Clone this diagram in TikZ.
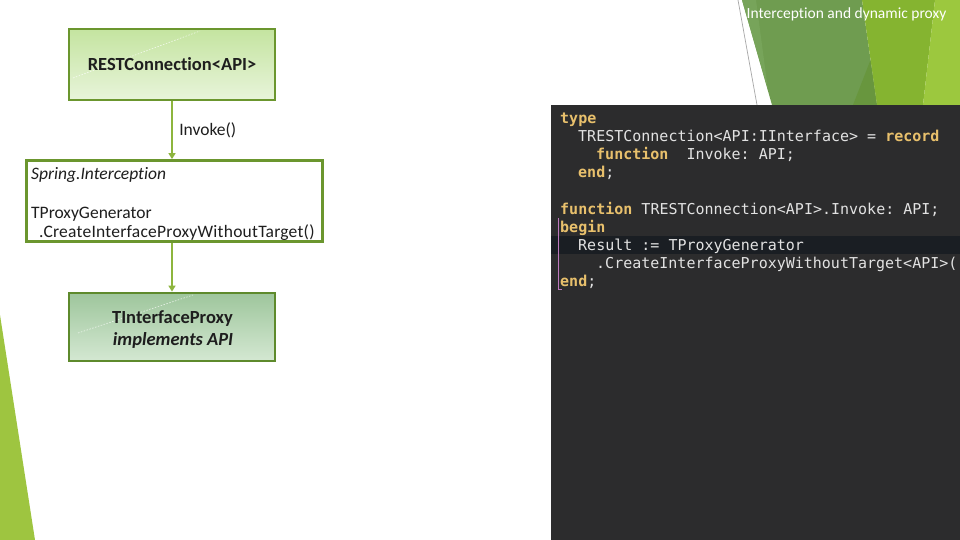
\documentclass[tikz,border=0pt]{standalone}
\usepackage{fontspec}
\setmainfont{Carlito}[Ligatures=NoCommon]
\setmonofont{DejaVu Sans Mono}
\usetikzlibrary{arrows.meta}
\definecolor{boxline}{RGB}{107,150,46}
\definecolor{boxlineB}{RGB}{94,138,44}
\definecolor{fillAtop}{RGB}{196,228,160}
\definecolor{fillAbot}{RGB}{232,244,218}
\definecolor{fillBtop}{RGB}{158,198,156}
\definecolor{fillBbot}{RGB}{212,232,210}
\definecolor{flowc}{RGB}{141,181,62}
\definecolor{panel}{RGB}{44,44,45}
\definecolor{hlbar}{RGB}{26,30,35}
\definecolor{codefg}{RGB}{226,226,226}
\definecolor{codekw}{RGB}{232,192,108}
\definecolor{guide}{RGB}{190,120,190}
\definecolor{decoDark}{RGB}{111,156,80}
\definecolor{decoDarkHi}{RGB}{119,164,90}
\definecolor{decoMid}{RGB}{104,150,62}
\definecolor{decoLight}{RGB}{133,180,48}
\definecolor{decoLighter}{RGB}{156,200,62}
\definecolor{decoLeft}{RGB}{158,197,64}
\definecolor{txt}{RGB}{30,30,30}
\newcommand\kw[1]{\textcolor{codekw}{\bfseries #1}}
\tikzset{
  boxA/.style={draw=boxline, line width=2.8pt, minimum width=206pt, minimum height=71pt,
    top color=fillAtop, bottom color=fillAbot, inner sep=0pt,
    font=\fontsize{18.5}{22}\selectfont\bfseries, text=txt},
  boxG/.style={draw=boxline, line width=2.8pt, minimum width=296pt, minimum height=81pt,
    fill=white, inner sep=0pt},
  boxB/.style={draw=boxlineB, line width=2.8pt, minimum width=206pt, minimum height=68pt,
    top color=fillBtop, bottom color=fillBbot, inner sep=0pt},
  lbl/.style={anchor=base west, inner sep=0pt, font=\fontsize{17.5}{21}\selectfont, text=txt},
  blbl/.style={anchor=base, inner sep=0pt, font=\fontsize{18.5}{22}\selectfont\bfseries, text=txt},
  flow/.style={draw=flowc, line width=1.6pt, -{Triangle[length=6pt,width=7pt]}},
  gloss/.style={draw=white, line width=0.6pt, dash pattern=on 1.5pt off 1.5pt, opacity=0.75},
  code/.style={anchor=base west, inner sep=0pt, font=\fontsize{15}{18}\selectfont\ttfamily, text=codefg},
}
\begin{document}
\begin{tikzpicture}[x=1pt,y=-1pt]
\useasboundingbox (0,0) rectangle (960,540);
\fill[white] (0,0) rectangle (960,540);
% decorative theme shapes
\fill[decoLeft] (0,315) -- (35,540) -- (0,540) -- cycle;
\fill[decoDark] (742,0) -- (862,0) -- (877,105) -- (772,105) -- cycle;
\fill[decoDarkHi] (742,0) -- (756,0) -- (768,90) -- cycle;
\fill[decoMid] (853,105) -- (870.5,60) -- (877,105) -- cycle;
\fill[decoLight] (862,0) -- (935,0) -- (923,105) -- (877,105) -- cycle;
\fill[decoLighter] (935,0) -- (960,0) -- (960,105) -- (923,105) -- cycle;
\draw[gray!70, line width=0.7pt] (738,0) -- (757,105);
\node[anchor=base east, inner sep=0pt, text=white, font=\fontsize{15.5}{18}\selectfont] (title) at (946.5,18.8) {Interception and dynamic proxy};
% code panel
\fill[panel] (551,105) rectangle (960,540);
\fill[hlbar] (551,236) rectangle (960,254);
\draw[guide, line width=0.8pt] (558,218) -- (558,289) -- (562,289);
\begin{scope}
\clip (551,105) rectangle (960,540);
\node[code] (c1) at (560,124) {\kw{type}};
\node[code] (c2) at (578,142) {TRESTConnection<API:IInterface>~=~\kw{record}};
\node[code] (c3) at (596,160) {\kw{function}~~Invoke:~API;};
\node[code] (c4) at (578,178) {\kw{end};};
\node[code] (c5) at (560,214) {\kw{function}~TRESTConnection<API>.Invoke:~API;};
\node[code] (c6) at (560,232) {\kw{begin}};
\node[code] (c7) at (578,250) {Result~:=~TProxyGenerator};
\node[code] (c8) at (596,268) {.CreateInterfaceProxyWithoutTarget<API>(};
\node[code] (c9) at (560,286) {\kw{end};};
\end{scope}
% diagram
\node[boxA] (rest) at (172,64.5) {};
\draw[gloss] (73,78) -- (200,31);
\node[font=\fontsize{18.5}{22}\selectfont\bfseries, text=txt, inner sep=0pt, anchor=base] (restlbl) at (172,70.7) {RESTConnection<API>};
\node[boxG] (gen) at (174.5,201) {};
\node[boxB] (proxy) at (172,327) {};
\draw[gloss] (78,333) -- (193,295);
\node[lbl] (genns) at (31,179) {\itshape Spring.Interception};
\node[lbl] (gencls) at (31,218) {TProxyGenerator};
\node[lbl] (genmth) at (39,237) {\addfontfeature{LetterSpace=1.4}.CreateInterfaceProxyWithoutTarget()};
\node[blbl] (pxname) at (172.5,323) {TInterfaceProxy};
\node[blbl] (pximpl) at (173,345) {\itshape implements API};
\draw[flow] (rest.south) -- node[lbl, anchor=west, right=6.5pt] (inv) {Invoke()} (rest.south |- gen.north);
\draw[flow] (rest.south |- gen.south) -- (proxy.north);
\end{tikzpicture}
\end{document}
